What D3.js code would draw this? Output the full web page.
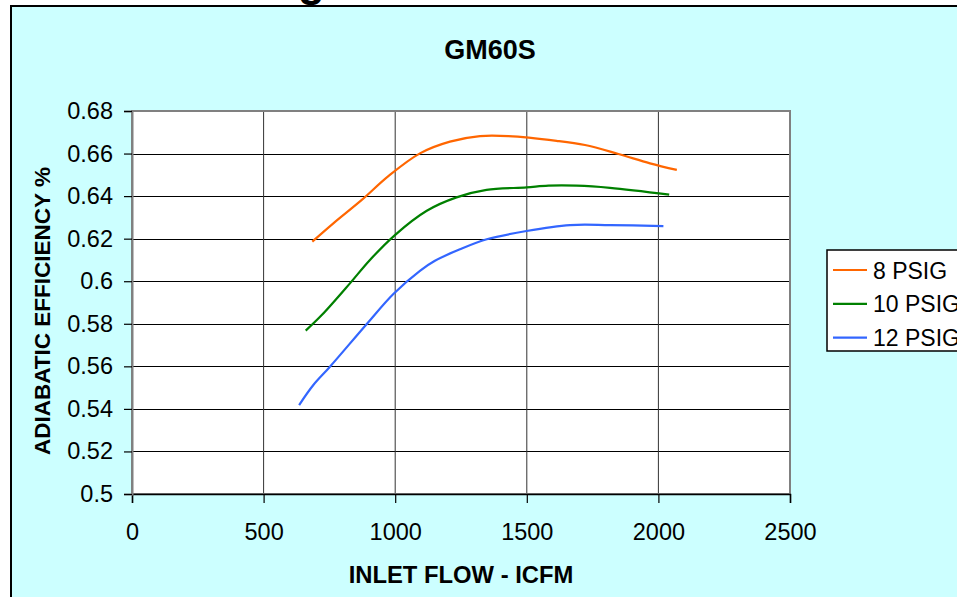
<!DOCTYPE html>
<html>
<head>
<meta charset="utf-8">
<script src="https://cdn.jsdelivr.net/npm/d3@7"></script>
<style>
  html, body { margin: 0; padding: 0; background: #ffffff; overflow: hidden; }
  svg { display: block; }
  text { font-family: "Liberation Sans", Arial, sans-serif; }
</style>
</head>
<body>
<svg id="chart" width="957" height="597"></svg>
<script>
// Compressor performance: inlet flow (ICFM) vs adiabatic efficiency
const seriesNames = ["8 PSIG", "10 PSIG", "12 PSIG"];
const seriesColors = ["#FF6600", "#008000", "#3366FF"];

const flow8 = [685, 765, 873, 974, 1094, 1208, 1322, 1430, 1613, 1721, 1848, 1968, 2070];
const eff8  = [0.6186, 0.6272, 0.6382, 0.6494, 0.6601, 0.6656, 0.6682, 0.6682, 0.6660, 0.6640, 0.6598, 0.6554, 0.6523];

const flow10 = [660, 721, 828, 904, 999, 1120, 1233, 1347, 1499, 1582, 1689, 1816, 2041];
const eff10  = [0.5768, 0.5841, 0.5990, 0.6100, 0.6217, 0.6331, 0.6394, 0.6429, 0.6441, 0.6449, 0.6449, 0.6439, 0.6407];

const flow12 = [635, 689, 752, 892, 993, 1094, 1151, 1246, 1348, 1499, 1664, 1816, 2019];
const eff12  = [0.5418, 0.5512, 0.5598, 0.5799, 0.5940, 0.6049, 0.6096, 0.6150, 0.6197, 0.6236, 0.6264, 0.6264, 0.6259];

const xTicks = [0, 500, 1000, 1500, 2000, 2500];
const yTicks = [0.5, 0.52, 0.54, 0.56, 0.58, 0.6, 0.62, 0.64, 0.66, 0.68];

const chartTitle = "GM60S";
const xTitle = "INLET FLOW - ICFM";
const yTitle = "ADIABATIC EFFICIENCY %";

const series = [
  { name: seriesNames[0], color: seriesColors[0], pts: flow8.map((f, i) => [f, eff8[i]]) },
  { name: seriesNames[1], color: seriesColors[1], pts: flow10.map((f, i) => [f, eff10[i]]) },
  { name: seriesNames[2], color: seriesColors[2], pts: flow12.map((f, i) => [f, eff12[i]]) }
];

const svg = d3.select("#chart");

// Slide title descender peeking above the chart frame
svg.append("text")
  .attr("x", 298).attr("y", -4)
  .attr("font-size", 44).attr("font-weight", "bold")
  .attr("fill", "#000")
  .text("g");

// Chart frame
svg.append("rect")
  .attr("x", 11).attr("y", 6)
  .attr("width", 960).attr("height", 600)
  .attr("fill", "#CCFFFF")
  .attr("stroke", "#000").attr("stroke-width", 2);

const plot = { left: 132, right: 790, top: 111, bottom: 494 };

const x = d3.scaleLinear().domain([0, 2500]).range([plot.left, plot.right]);
const y = d3.scaleLinear().domain([0.5, 0.68]).range([plot.bottom, plot.top]);

// Plot area
svg.append("rect")
  .attr("x", plot.left).attr("y", plot.top)
  .attr("width", plot.right - plot.left).attr("height", plot.bottom - plot.top)
  .attr("fill", "#ffffff");

// Gridlines
svg.append("g")
  .selectAll("line")
  .data(yTicks)
  .join("line")
  .attr("x1", plot.left).attr("x2", plot.right)
  .attr("y1", d => Math.round(y(d)) + 0.5).attr("y2", d => Math.round(y(d)) + 0.5)
  .attr("stroke", "#000").attr("stroke-width", 1);

svg.append("g")
  .selectAll("line")
  .data(xTicks)
  .join("line")
  .attr("x1", d => x(d)).attr("x2", d => x(d))
  .attr("y1", plot.top).attr("y2", plot.bottom)
  .attr("stroke", "#333").attr("stroke-width", 1);

// Plot area border
svg.append("rect")
  .attr("x", plot.left).attr("y", plot.top)
  .attr("width", plot.right - plot.left).attr("height", plot.bottom - plot.top)
  .attr("fill", "none")
  .attr("stroke", "#808080").attr("stroke-width", 2);

// Axes
const xAxis = d3.axisBottom(x).tickValues(xTicks).tickSize(9).tickPadding(20)
  .tickFormat(d3.format("d"));
const gx = svg.append("g")
  .attr("transform", `translate(0,${plot.bottom})`)
  .call(xAxis);
gx.select(".domain").attr("stroke", "#000").attr("stroke-width", 1.5);
gx.selectAll(".tick line").attr("stroke", "#000").attr("stroke-width", 1.2);
gx.selectAll(".tick text")
  .attr("font-size", 23.5).attr("fill", "#000")
  .attr("font-family", "Liberation Sans, Arial, sans-serif");

const yAxis = d3.axisLeft(y).tickValues(yTicks).tickSize(8).tickPadding(11)
  .tickFormat(d => d3.format("")(+d.toFixed(2)));
const gy = svg.append("g")
  .attr("transform", `translate(${plot.left},0)`)
  .call(yAxis);
gy.select(".domain").attr("stroke", "#808080").attr("stroke-width", 2);
gy.selectAll(".tick line").attr("stroke", "#000").attr("stroke-width", 1.2);
gy.selectAll(".tick text")
  .attr("font-size", 23.5).attr("fill", "#000")
  .attr("font-family", "Liberation Sans, Arial, sans-serif");

// Series lines
const line = d3.line()
  .x(d => x(d[0]))
  .y(d => y(d[1]))
  .curve(d3.curveCatmullRom.alpha(0.5));

svg.append("g")
  .selectAll("path")
  .data(series)
  .join("path")
  .attr("d", d => line(d.pts))
  .attr("fill", "none")
  .attr("stroke", d => d.color)
  .attr("stroke-width", 2.2)
  .attr("stroke-linejoin", "round");

// Titles
svg.append("text")
  .attr("x", 490).attr("y", 59)
  .attr("text-anchor", "middle")
  .attr("font-size", 27).attr("font-weight", "bold")
  .text(chartTitle);

svg.append("text")
  .attr("x", 461).attr("y", 583)
  .attr("text-anchor", "middle")
  .attr("font-size", 23.8).attr("font-weight", "bold")
  .text(xTitle);

svg.append("text")
  .attr("transform", "translate(50,311) rotate(-90)")
  .attr("text-anchor", "middle")
  .attr("font-size", 22.5).attr("font-weight", "bold")
  .text(yTitle);

// Legend
const legend = svg.append("g").attr("transform", "translate(827,250)");
legend.append("rect")
  .attr("x", 0).attr("y", 0)
  .attr("width", 160).attr("height", 101)
  .attr("fill", "#ffffff")
  .attr("stroke", "#000").attr("stroke-width", 1.5);

const items = legend.selectAll("g")
  .data(series)
  .join("g")
  .attr("transform", (d, i) => `translate(0,${20 + i * 33.8})`);
items.append("line")
  .attr("x1", 6).attr("x2", 40)
  .attr("y1", 0).attr("y2", 0)
  .attr("stroke", d => d.color).attr("stroke-width", 2.2);
items.append("text")
  .attr("x", 46).attr("y", 8.5)
  .attr("font-size", 23)
  .text(d => d.name);
</script>
</body>
</html>
